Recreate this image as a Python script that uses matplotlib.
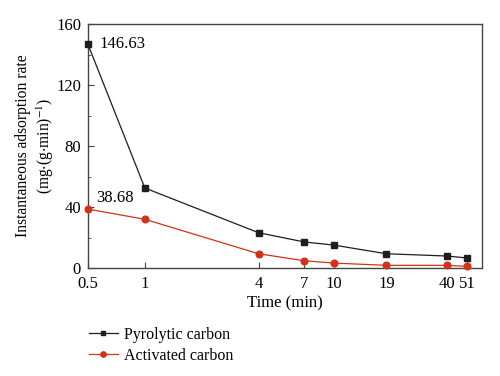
import numpy as np
import matplotlib
matplotlib.use('Agg')
import matplotlib.pyplot as plt
from matplotlib.ticker import FixedLocator, NullLocator, MultipleLocator

plt.rcParams['font.family'] = ['Liberation Serif', 'DejaVu Serif']
plt.rcParams['mathtext.fontset'] = 'stix'

time = [0.5, 1, 4, 7, 10, 19, 40, 51]
pyrolytic = [146.63, 52.5, 23.2, 17.1, 15.1, 9.4, 7.9, 6.6]
activated = [38.68, 32.0, 9.4, 4.8, 3.3, 1.8, 1.8, 1.1]
tick_labels = ["0.5", "1", "4", "7", "10", "19", "40", "51"]

BLACK = "#1e1e1e"
RED = "#d2321a"

fig = plt.figure(figsize=(5.0, 3.76), dpi=100)
ax = fig.add_axes([0.176, 0.287, 0.788, 0.649])

ax.plot(time, pyrolytic, color=BLACK, lw=0.9, marker='s', ms=4,
        label="Pyrolytic carbon", clip_on=False, zorder=3)
ax.plot(time, activated, color=RED, lw=0.9, marker='o', ms=4.8,
        label="Activated carbon", clip_on=False, zorder=3)

ax.set_xscale('log')
ax.set_xlim(0.5, 61)
ax.set_ylim(0, 160)
ax.xaxis.set_major_locator(FixedLocator(time))
ax.xaxis.set_minor_locator(NullLocator())
ax.set_xticklabels(tick_labels)
ax.yaxis.set_major_locator(MultipleLocator(40))
ax.yaxis.set_minor_locator(MultipleLocator(20))
ax.tick_params(which='both', direction='in', labelsize=12, color='#444444')
ax.tick_params(which='major', length=4)
ax.tick_params(which='minor', length=2.5)
ax.tick_params(axis='x', pad=6)
ax.tick_params(axis='y', pad=5)
for s in ax.spines.values():
    s.set_color('#444444')
    s.set_linewidth(1.0)

ax.annotate("146.63", (time[0], pyrolytic[0]), xytext=(8, 0),
            textcoords='offset points', fontsize=12, va='center')
ax.annotate("38.68", (time[0], activated[0]), xytext=(6, 8),
            textcoords='offset points', fontsize=12, va='center')

ax.set_xlabel("Time (min)", fontsize=12, labelpad=2)
ax.set_ylabel("Instantaneous adsorption rate\n(mg$\\cdot$(g$\\cdot$min)$^{-1}$)",
              fontsize=11.2, linespacing=1.2)
ax.yaxis.set_label_coords(-0.082, 0.5)

fig.legend(loc='upper left', bbox_to_anchor=(0.165, 0.148), frameon=False,
           fontsize=11.5, handlelength=1.8, handletextpad=0.4,
           labelspacing=0.3, borderaxespad=0, markerscale=0.8)

fig.savefig("out.png", dpi=100)
